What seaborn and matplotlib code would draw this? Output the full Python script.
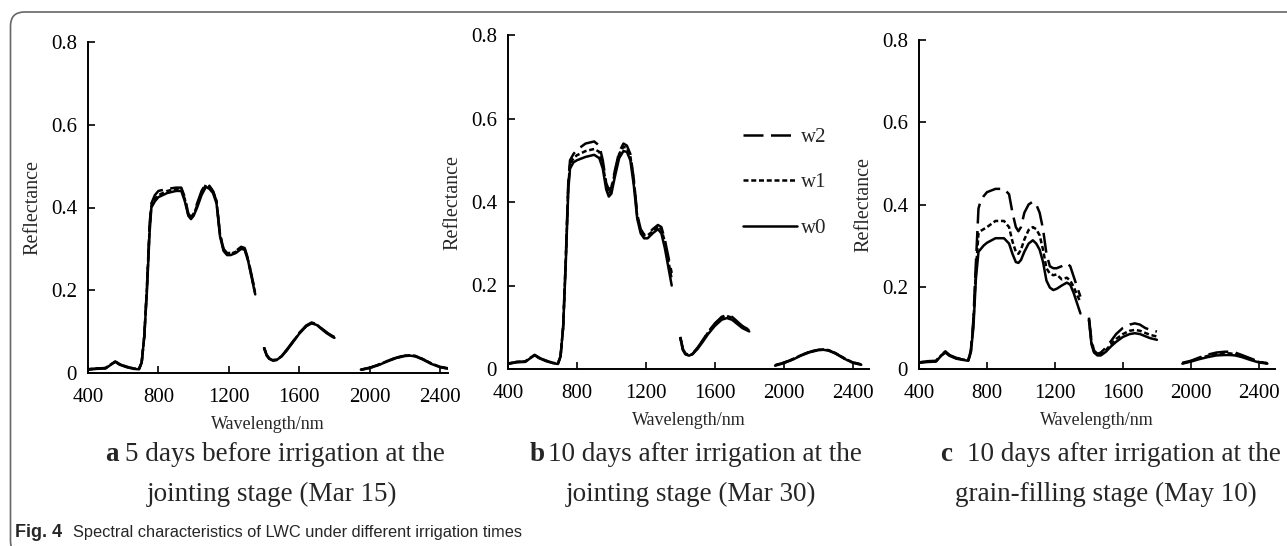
import numpy as np
import pandas as pd
import matplotlib
matplotlib.use("Agg")
import matplotlib.pyplot as plt
import seaborn as sns
from matplotlib.patches import FancyBboxPatch
from matplotlib.transforms import IdentityTransform

# ---------------- data ----------------
# wavelength grid (nm): three measured ranges separated by water-absorption gaps
WL_VNIR = [400, 450, 500, 530, 555, 580, 620, 660, 690, 705, 720, 735, 750, 760, 780, 800,
           850, 900, 930, 950, 970, 985, 1000, 1020, 1045, 1070, 1090, 1110, 1130, 1150,
           1170, 1190, 1210, 1240, 1270, 1290, 1310, 1330, 1350]
WL_SWIR1 = [1400, 1415, 1430, 1450, 1470, 1500, 1530, 1560, 1600, 1640, 1670, 1700, 1730,
            1760, 1790, 1800]
WL_SWIR2 = [1950, 2000, 2050, 2100, 2150, 2200, 2230, 2260, 2300, 2350, 2400, 2450]

TREATMENTS = ["w2", "w1", "w0"]

# Panel a: 5 days before irrigation at the jointing stage (Mar 15)
A_W0 = [0.008, 0.010, 0.011, 0.020, 0.027, 0.020, 0.014, 0.010, 0.009, 0.025, 0.09, 0.20, 0.34, 0.40, 0.415, 0.425,
        0.435, 0.44, 0.44, 0.415, 0.38, 0.372, 0.38, 0.40, 0.43, 0.45, 0.445, 0.435, 0.41, 0.33,
        0.295, 0.285, 0.285, 0.29, 0.30, 0.298, 0.27, 0.23, 0.19,
        0.060, 0.042, 0.034, 0.030, 0.031, 0.040, 0.055, 0.072, 0.095, 0.113, 0.120, 0.116, 0.105, 0.095, 0.087, 0.085,
        0.008, 0.012, 0.019, 0.028, 0.036, 0.041, 0.042, 0.040, 0.033, 0.022, 0.014, 0.010]
A_W1 = [0.009, 0.011, 0.012, 0.021, 0.028, 0.021, 0.015, 0.011, 0.010, 0.026, 0.09, 0.21, 0.35, 0.405, 0.42, 0.43,
        0.44, 0.445, 0.445, 0.42, 0.382, 0.375, 0.383, 0.405, 0.435, 0.455, 0.45, 0.44, 0.415, 0.335,
        0.298, 0.288, 0.288, 0.293, 0.303, 0.30, 0.272, 0.232, 0.192,
        0.061, 0.043, 0.035, 0.031, 0.032, 0.041, 0.056, 0.073, 0.096, 0.114, 0.121, 0.117, 0.106, 0.096, 0.088, 0.086,
        0.008, 0.012, 0.020, 0.029, 0.037, 0.042, 0.043, 0.041, 0.034, 0.023, 0.015, 0.010]
A_W2 = [0.009, 0.011, 0.012, 0.021, 0.028, 0.021, 0.015, 0.011, 0.010, 0.026, 0.09, 0.21, 0.36, 0.41, 0.43, 0.44,
        0.445, 0.448, 0.448, 0.425, 0.385, 0.377, 0.385, 0.41, 0.44, 0.458, 0.452, 0.44, 0.415, 0.335,
        0.30, 0.29, 0.29, 0.295, 0.305, 0.302, 0.275, 0.235, 0.195,
        0.062, 0.044, 0.035, 0.031, 0.032, 0.041, 0.057, 0.074, 0.097, 0.115, 0.122, 0.118, 0.107, 0.097, 0.089, 0.087,
        0.008, 0.013, 0.020, 0.029, 0.037, 0.042, 0.043, 0.041, 0.034, 0.023, 0.015, 0.011]

# Panel b: 10 days after irrigation at the jointing stage (Mar 30)
B_W0 = [0.012, 0.016, 0.017, 0.026, 0.033, 0.026, 0.019, 0.014, 0.012, 0.03, 0.10, 0.25, 0.43, 0.48, 0.495, 0.50,
        0.508, 0.513, 0.505, 0.48, 0.43, 0.413, 0.42, 0.46, 0.505, 0.522, 0.52, 0.50, 0.44, 0.36,
        0.325, 0.313, 0.313, 0.325, 0.335, 0.325, 0.29, 0.245, 0.20,
        0.074, 0.045, 0.035, 0.032, 0.035, 0.048, 0.065, 0.083, 0.103, 0.118, 0.122, 0.118, 0.108, 0.098, 0.092, 0.090,
        0.008, 0.014, 0.022, 0.032, 0.040, 0.045, 0.046, 0.044, 0.037, 0.025, 0.015, 0.010]
B_W1 = [0.013, 0.017, 0.018, 0.027, 0.034, 0.027, 0.020, 0.015, 0.013, 0.031, 0.10, 0.26, 0.44, 0.49, 0.505, 0.512,
        0.522, 0.527, 0.52, 0.49, 0.44, 0.42, 0.43, 0.47, 0.515, 0.532, 0.53, 0.51, 0.45, 0.365,
        0.33, 0.32, 0.32, 0.33, 0.342, 0.335, 0.305, 0.26, 0.215,
        0.076, 0.047, 0.036, 0.033, 0.036, 0.050, 0.068, 0.087, 0.108, 0.123, 0.127, 0.123, 0.112, 0.102, 0.095, 0.093,
        0.009, 0.015, 0.023, 0.033, 0.041, 0.046, 0.047, 0.045, 0.038, 0.026, 0.016, 0.011]
B_W2 = [0.013, 0.017, 0.018, 0.027, 0.034, 0.027, 0.020, 0.015, 0.013, 0.031, 0.10, 0.26, 0.45, 0.50, 0.515, 0.525,
        0.54, 0.545, 0.535, 0.50, 0.445, 0.43, 0.435, 0.475, 0.52, 0.54, 0.535, 0.515, 0.455, 0.37,
        0.335, 0.322, 0.322, 0.335, 0.345, 0.34, 0.31, 0.27, 0.23,
        0.077, 0.048, 0.037, 0.034, 0.037, 0.051, 0.069, 0.088, 0.109, 0.125, 0.129, 0.125, 0.114, 0.103, 0.096, 0.094,
        0.009, 0.015, 0.023, 0.033, 0.041, 0.046, 0.047, 0.045, 0.038, 0.026, 0.016, 0.011]

# Panel c: 10 days after irrigation at the grain-filling stage (May 10)
C_W0 = [0.015, 0.017, 0.018, 0.032, 0.040, 0.032, 0.025, 0.022, 0.020, 0.04, 0.10, 0.22, 0.285, 0.29, 0.30, 0.307,
        0.318, 0.318, 0.305, 0.28, 0.26, 0.258, 0.265, 0.285, 0.305, 0.313, 0.305, 0.29, 0.26, 0.215,
        0.198, 0.192, 0.195, 0.203, 0.21, 0.205, 0.185, 0.16, 0.135,
        0.12, 0.06, 0.04, 0.033, 0.033, 0.042, 0.055, 0.066, 0.078, 0.085, 0.087, 0.085, 0.08, 0.075, 0.072, 0.071,
        0.013, 0.018, 0.024, 0.029, 0.033, 0.034, 0.034, 0.033, 0.029, 0.022, 0.016, 0.013]
C_W1 = [0.016, 0.018, 0.019, 0.033, 0.041, 0.033, 0.026, 0.023, 0.021, 0.042, 0.11, 0.24, 0.33, 0.335, 0.34, 0.345,
        0.36, 0.36, 0.345, 0.31, 0.285, 0.28, 0.29, 0.315, 0.338, 0.345, 0.34, 0.325, 0.29, 0.245,
        0.232, 0.228, 0.23, 0.218, 0.222, 0.215, 0.2, 0.18, 0.163,
        0.12, 0.065, 0.042, 0.035, 0.036, 0.046, 0.06, 0.073, 0.085, 0.093, 0.095, 0.093, 0.088, 0.083, 0.08, 0.079,
        0.014, 0.019, 0.026, 0.032, 0.037, 0.038, 0.038, 0.036, 0.031, 0.024, 0.017, 0.014]
C_W2 = [0.016, 0.019, 0.020, 0.034, 0.043, 0.034, 0.027, 0.024, 0.022, 0.045, 0.12, 0.26, 0.39, 0.405, 0.42, 0.43,
        0.438, 0.438, 0.425, 0.38, 0.345, 0.335, 0.345, 0.38, 0.40, 0.407, 0.40, 0.38, 0.34, 0.28,
        0.25, 0.245, 0.245, 0.25, 0.257, 0.25, 0.225, 0.2, 0.176,
        0.125, 0.07, 0.045, 0.037, 0.04, 0.052, 0.068, 0.085, 0.1, 0.108, 0.111, 0.108, 0.1, 0.095, 0.092, 0.091,
        0.015, 0.02, 0.028, 0.035, 0.040, 0.042, 0.042, 0.040, 0.034, 0.026, 0.018, 0.014]

X_TICKS = [400, 800, 1200, 1600, 2000, 2400]
Y_TICKS = [0, 0.2, 0.4, 0.6, 0.8]
Y_TICKLABELS = ["0", "0.2", "0.4", "0.6", "0.8"]

CAPTION_LETTERS = ["a", "b", "c"]
CAPTION_LINE1 = ["5 days before irrigation at the",
                 "10 days after irrigation at the",
                 "10 days after irrigation at the"]
CAPTION_LINE2 = ["jointing stage (Mar 15)",
                 "jointing stage (Mar 30)",
                 "grain-filling stage (May 10)"]
FIG_TITLE_BOLD = "Fig. 4"
FIG_TITLE = "Spectral characteristics of LWC under different irrigation times"

# ---------------- build tidy frames ----------------
WL_ALL = WL_VNIR + WL_SWIR1 + WL_SWIR2
SEG_ALL = [0] * len(WL_VNIR) + [1] * len(WL_SWIR1) + [2] * len(WL_SWIR2)


def make_df(series):
    frames = []
    for name, vals in series.items():
        frames.append(pd.DataFrame({"wavelength": WL_ALL, "reflectance": vals,
                                    "treatment": name, "segment": SEG_ALL}))
    return pd.concat(frames, ignore_index=True)


panels = [make_df({"w2": A_W2, "w1": A_W1, "w0": A_W0}),
          make_df({"w2": B_W2, "w1": B_W1, "w0": B_W0}),
          make_df({"w2": C_W2, "w1": C_W1, "w0": C_W0})]

# ---------------- figure ----------------
sns.set_style("ticks")
plt.rcParams["font.family"] = ["Liberation Serif", "DejaVu Serif"]

W, H = 1287, 546
fig = plt.figure(figsize=(W / 100, H / 100), dpi=100)

# axes boxes in pixels: left, right, top, bottom
boxes = [(88, 448, 42, 373), (508, 869, 35, 369), (919, 1275, 40, 369)]
xlims = [(400, 2445), (400, 2495), (400, 2495)]
DASHES = {"w2": (8, 3), "w1": (2, 1.1), "w0": ""}

axes = []
for i, (df, (l, r, t, b)) in enumerate(zip(panels, boxes)):
    ax = fig.add_axes([l / W, 1 - b / H, (r - l) / W, (b - t) / H])
    sns.lineplot(data=df, x="wavelength", y="reflectance", style="treatment",
                 style_order=TREATMENTS, units="segment", estimator=None,
                 dashes=DASHES, color="black", linewidth=1.8, sort=False,
                 legend=(i == 1), ax=ax)
    ax.set_xlim(*xlims[i])
    ax.set_ylim(0, 0.8)
    ax.set_xticks(X_TICKS)
    ax.set_yticks(Y_TICKS)
    ax.set_yticklabels(Y_TICKLABELS)
    sns.despine(ax=ax)
    for s in ("left", "bottom"):
        ax.spines[s].set_linewidth(1.4)
        ax.spines[s].set_color("black")
    ax.tick_params(axis="both", direction="in", length=5, width=1.2,
                   labelsize=15, colors="black")
    ax.tick_params(axis="x", pad=11)
    ax.tick_params(axis="y", pad=8)
    ax.set_ylabel("Reflectance", fontsize=14.5, labelpad=6)
    ax.set_xlabel("Wavelength/nm", fontsize=13, labelpad=6)
    ax.patch.set_alpha(0)
    axes.append(ax)

sns.move_legend(axes[1], "upper left", bbox_to_anchor=(0.598, 0.78), title=None,
                frameon=False, handlelength=2.6, handletextpad=0.2,
                labelspacing=1.25, fontsize=15)

# sub-captions
bold_x = [105, 530, 940]
text_x = [125, 548, 967]
line2_cx = [272, 691, 1106]
for i in range(3):
    fig.text(bold_x[i] / W, 1 - 461 / H, CAPTION_LETTERS[i], fontsize=19.5,
             fontweight="bold", ha="left", va="baseline")
    fig.text(text_x[i] / W, 1 - 461 / H, CAPTION_LINE1[i], fontsize=19.5,
             ha="left", va="baseline")
    fig.text(line2_cx[i] / W, 1 - 501 / H, CAPTION_LINE2[i], fontsize=19.5,
             ha="center", va="baseline")

# figure caption
fig.text(15 / W, 1 - 537 / H, FIG_TITLE_BOLD, fontsize=13, fontweight="bold",
         family=["Liberation Sans", "DejaVu Sans"], ha="left", va="baseline")
fig.text(73 / W, 1 - 537 / H, FIG_TITLE, fontsize=11.8,
         family=["Liberation Sans", "DejaVu Sans"], ha="left", va="baseline")

# rounded frame around the figure
frame = FancyBboxPatch((10.5, -9), 1320, 543, boxstyle="round,pad=0,rounding_size=14",
                       transform=IdentityTransform(), facecolor="none",
                       edgecolor="#666666", linewidth=1.2)
fig.add_artist(frame)

fig.savefig("out.png", dpi=100)
